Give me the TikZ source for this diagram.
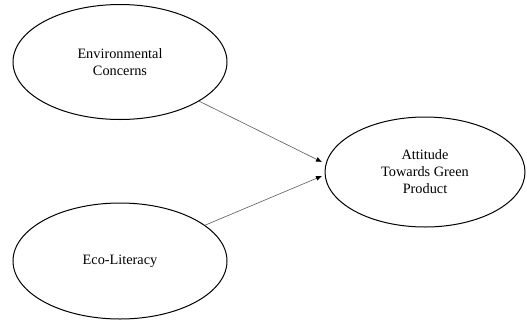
\documentclass[tikz,border=0pt]{standalone}
\usepackage{fontspec}
\setmainfont{Liberation Serif}
\usetikzlibrary{shapes.geometric,arrows.meta}
\begin{document}
\begin{tikzpicture}[x=1pt,y=-1pt,
  construct/.style={ellipse,draw,line width=1pt,inner sep=0pt,align=center,
    font=\fontsize{14.3}{17}\selectfont},
  link/.style={draw=black!65,line width=0.6pt,-{Latex[length=6pt,width=5pt,color=black]}}]
\useasboundingbox (0,0) rectangle (527,322);
\node[construct,minimum width=214pt,minimum height=115pt] (env) at (120,62) {Environmental\\Concerns};
\node[construct,minimum width=214pt,minimum height=116pt] (eco) at (120,261) {Eco-Literacy};
\node[construct,minimum width=200pt,minimum height=110pt] (att) at (425,172) {Attitude\\Towards Green\\Product};
\coordinate (t1) at (322,162);
\coordinate (t2) at (322,176);
\draw[link] (env) -- (t1);
\draw[link] (eco) -- (t2);
\end{tikzpicture}
\end{document}
